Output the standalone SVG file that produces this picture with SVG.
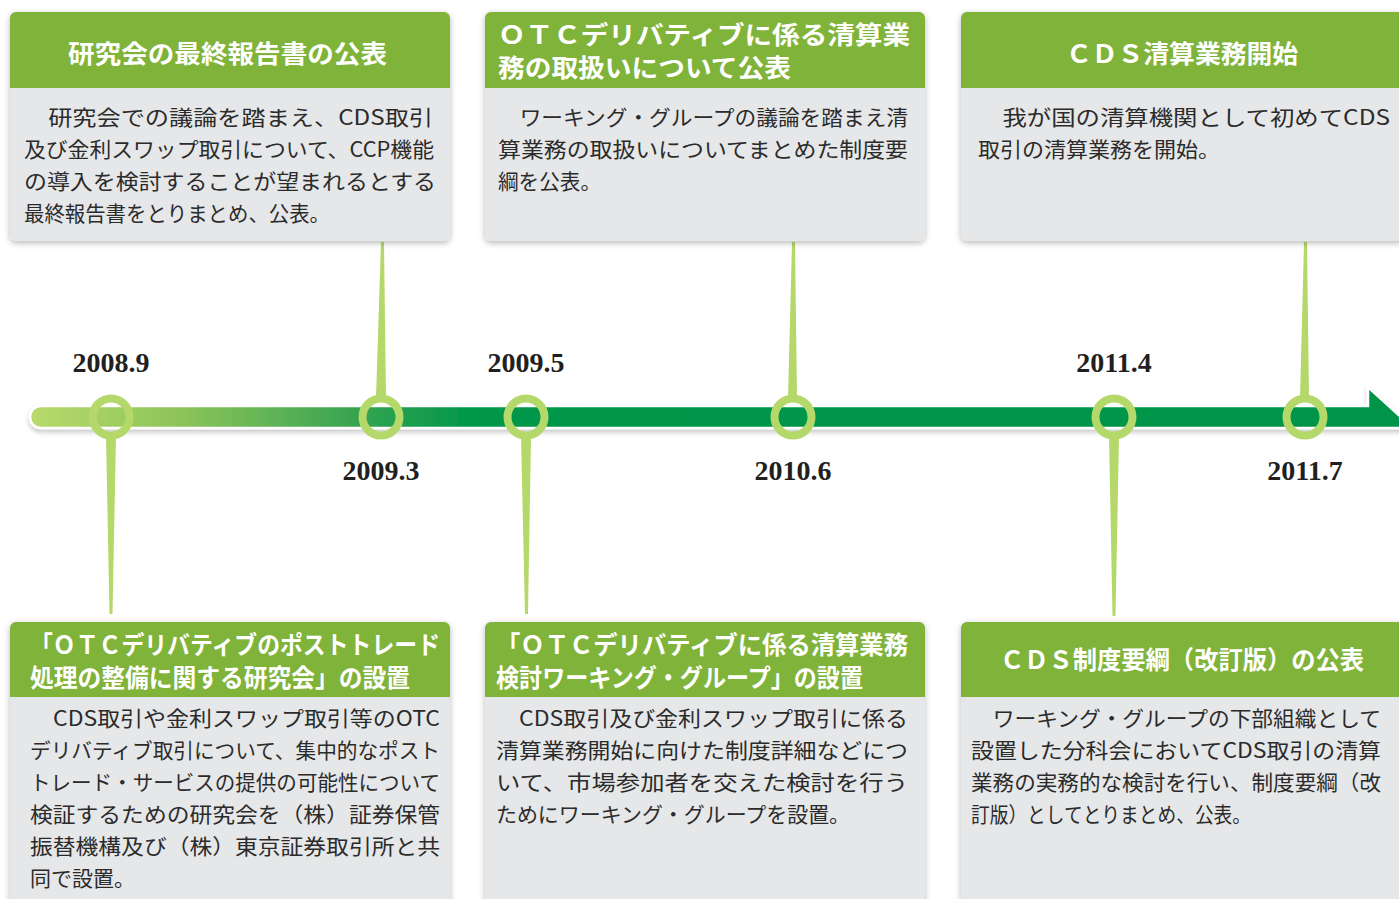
<svg xmlns="http://www.w3.org/2000/svg" width="1399" height="899" viewBox="0 0 1399 899">
<defs>
  <linearGradient id="barGrad" x1="30" y1="0" x2="1413" y2="0" gradientUnits="userSpaceOnUse">
    <stop offset="0" stop-color="#b9da6c"/>
    <stop offset="0.11" stop-color="#8cc45a"/>
    <stop offset="0.23" stop-color="#3aa551"/>
    <stop offset="0.32" stop-color="#00974a"/>
    <stop offset="1" stop-color="#00944a"/>
  </linearGradient>
  <filter id="shadow" x="-10%" y="-10%" width="120%" height="130%">
    <feDropShadow dx="0" dy="2" stdDeviation="3" flood-color="#000" flood-opacity="0.28"/>
  </filter>
  <filter id="barShadow" x="-5%" y="-50%" width="110%" height="250%">
    <feDropShadow dx="0" dy="3" stdDeviation="2.5" flood-color="#000" flood-opacity="0.22"/>
  </filter>
</defs>
<style>
  .hdr { fill: #80b33a; }
  .body { fill: #e6e7e8; }
  .ht { font-family: "Noto Sans CJK JP", "Noto Sans", sans-serif; font-weight: 700; fill: #ffffff; font-size: 25px; }
  .bt { font-family: "Noto Sans CJK JP", "Noto Sans", sans-serif; font-weight: 400; fill: #2b2b2b; font-size: 21px; }
  .date { font-family: "Liberation Serif", serif; font-weight: 700; fill: #231f20; font-size: 28px; text-anchor: middle; }
  .ring { fill: none; stroke: #b5d86a; stroke-width: 8; }
  .conn { fill: #b5d86a; }
</style>
<rect width="1399" height="899" fill="#ffffff"/>

<!-- timeline bar -->
<g id="timeline">
  <path d="M41,406 L1368,406 L1368,387 L1413,428 L41,428 A11,11 0 0 1 41,406 Z" fill="url(#barGrad)" stroke="#ffffff" stroke-width="2.5" filter="url(#barShadow)"/>
</g>

<!-- connectors -->
<g id="connectors">
  <polygon class="conn" points="381,242 384,242 386,398 376,398"/>
  <polygon class="conn" points="792,242 795,242 797,398 788,398"/>
  <polygon class="conn" points="1304,242 1307,242 1309,398 1300,398"/>
  <polygon class="conn" points="106,436 116,436 112.5,614 109.5,614"/>
  <polygon class="conn" points="521,436 531,436 528,614 525,614"/>
  <polygon class="conn" points="1109,436 1119,436 1115.5,616 1112.5,616"/>
</g>

<!-- rings -->
<g id="rings">
  <circle class="ring" cx="111" cy="417" r="18.5"/>
  <circle class="ring" cx="381" cy="417" r="18.5"/>
  <circle class="ring" cx="526" cy="417" r="18.5"/>
  <circle class="ring" cx="793" cy="417" r="18.5"/>
  <circle class="ring" cx="1114" cy="417" r="18.5"/>
  <circle class="ring" cx="1305" cy="417" r="18.5"/>
</g>

<!-- dates -->
<g id="dates">
  <text class="date" x="111" y="372">2008.9</text>
  <text class="date" x="381" y="480">2009.3</text>
  <text class="date" x="526" y="372">2009.5</text>
  <text class="date" x="793" y="480">2010.6</text>
  <text class="date" x="1114" y="372">2011.4</text>
  <text class="date" x="1305" y="480">2011.7</text>
</g>

<!-- top box 1 -->
<g id="box-2008-9">
  <g filter="url(#shadow)">
    <rect class="body" x="10" y="12" width="440" height="229" rx="6"/>
  </g>
  <path class="hdr" d="M16,12 H444 A6,6 0 0 1 450,18 V88 H10 V18 A6,6 0 0 1 16,12 Z"/>
  <text class="ht" x="68" y="63" font-size="26" textLength="319" lengthAdjust="spacingAndGlyphs">研究会の最終報告書の公表</text>
  <text class="bt" x="24" y="125" textLength="409" lengthAdjust="spacingAndGlyphs">　研究会での議論を踏まえ、CDS取引</text>
  <text class="bt" x="24" y="157" textLength="410" lengthAdjust="spacingAndGlyphs">及び金利スワップ取引について、CCP機能</text>
  <text class="bt" x="24" y="189" textLength="412" lengthAdjust="spacingAndGlyphs">の導入を検討することが望まれるとする</text>
  <text class="bt" x="24" y="221" textLength="306" lengthAdjust="spacingAndGlyphs">最終報告書をとりまとめ、公表。</text>
</g>

<!-- top box 2 -->
<g id="box-2010-6">
  <g filter="url(#shadow)">
    <rect class="body" x="485" y="12" width="440" height="229" rx="6"/>
  </g>
  <path class="hdr" d="M491,12 H919 A6,6 0 0 1 925,18 V88 H485 V18 A6,6 0 0 1 491,12 Z"/>
  <text class="ht" x="498" y="44" font-size="24" textLength="412" lengthAdjust="spacingAndGlyphs">ＯＴＣデリバティブに係る清算業</text>
  <text class="ht" x="498" y="77" font-size="24" textLength="293" lengthAdjust="spacingAndGlyphs">務の取扱いについて公表</text>
  <text class="bt" x="498" y="125" textLength="410" lengthAdjust="spacingAndGlyphs">　ワーキング・グループの議論を踏まえ清</text>
  <text class="bt" x="498" y="157" textLength="410" lengthAdjust="spacingAndGlyphs">算業務の取扱いについてまとめた制度要</text>
  <text class="bt" x="498" y="189" textLength="103" lengthAdjust="spacingAndGlyphs">綱を公表。</text>
</g>

<!-- top box 3 -->
<g id="box-2011-7">
  <g filter="url(#shadow)">
    <rect class="body" x="961" y="12" width="450" height="229" rx="6"/>
  </g>
  <path class="hdr" d="M967,12 H1411 V88 H961 V18 A6,6 0 0 1 967,12 Z"/>
  <text class="ht" x="1066" y="63" font-size="26" textLength="232" lengthAdjust="spacingAndGlyphs">ＣＤＳ清算業務開始</text>
  <text class="bt" x="978" y="125" textLength="412" lengthAdjust="spacingAndGlyphs">　我が国の清算機関として初めてCDS</text>
  <text class="bt" x="978" y="157" textLength="242" lengthAdjust="spacingAndGlyphs">取引の清算業務を開始。</text>
</g>

<!-- bottom box 1 -->
<g id="box-2008-9-setup">
  <g filter="url(#shadow)">
    <rect class="body" x="10" y="622" width="440" height="300" rx="6"/>
  </g>
  <path class="hdr" d="M16,622 H444 A6,6 0 0 1 450,628 V697 H10 V628 A6,6 0 0 1 16,622 Z"/>
  <text class="ht" x="30" y="654" textLength="410" lengthAdjust="spacingAndGlyphs">「ＯＴＣデリバティブのポストトレード</text>
  <text class="ht" x="30" y="687" textLength="380" lengthAdjust="spacingAndGlyphs">処理の整備に関する研究会」の設置</text>
  <text class="bt" x="30" y="726" textLength="410" lengthAdjust="spacingAndGlyphs">　CDS取引や金利スワップ取引等のOTC</text>
  <text class="bt" x="30" y="758" textLength="410" lengthAdjust="spacingAndGlyphs">デリバティブ取引について、集中的なポスト</text>
  <text class="bt" x="30" y="790" textLength="410" lengthAdjust="spacingAndGlyphs">トレード・サービスの提供の可能性について</text>
  <text class="bt" x="30" y="822" textLength="410" lengthAdjust="spacingAndGlyphs">検証するための研究会を（株）証券保管</text>
  <text class="bt" x="30" y="854" textLength="410" lengthAdjust="spacingAndGlyphs">振替機構及び（株）東京証券取引所と共</text>
  <text class="bt" x="30" y="886" textLength="105" lengthAdjust="spacingAndGlyphs">同で設置。</text>
</g>

<!-- bottom box 2 -->
<g id="box-2009-5">
  <g filter="url(#shadow)">
    <rect class="body" x="485" y="622" width="440" height="300" rx="6"/>
  </g>
  <path class="hdr" d="M491,622 H919 A6,6 0 0 1 925,628 V697 H485 V628 A6,6 0 0 1 491,622 Z"/>
  <text class="ht" x="496" y="654" textLength="412" lengthAdjust="spacingAndGlyphs">「ＯＴＣデリバティブに係る清算業務</text>
  <text class="ht" x="496" y="687" textLength="367" lengthAdjust="spacingAndGlyphs">検討ワーキング・グループ」の設置</text>
  <text class="bt" x="496" y="726" textLength="412" lengthAdjust="spacingAndGlyphs">　CDS取引及び金利スワップ取引に係る</text>
  <text class="bt" x="496" y="758" textLength="412" lengthAdjust="spacingAndGlyphs">清算業務開始に向けた制度詳細などにつ</text>
  <text class="bt" x="496" y="790" textLength="412" lengthAdjust="spacingAndGlyphs">いて、市場参加者を交えた検討を行う</text>
  <text class="bt" x="496" y="822" textLength="354" lengthAdjust="spacingAndGlyphs">ためにワーキング・グループを設置。</text>
</g>

<!-- bottom box 3 -->
<g id="box-2011-4">
  <g filter="url(#shadow)">
    <rect class="body" x="961" y="622" width="450" height="300" rx="6"/>
  </g>
  <path class="hdr" d="M967,622 H1411 V697 H961 V628 A6,6 0 0 1 967,622 Z"/>
  <text class="ht" x="1000" y="669" textLength="364" lengthAdjust="spacingAndGlyphs">ＣＤＳ制度要綱（改訂版）の公表</text>
  <text class="bt" x="971" y="726" textLength="410" lengthAdjust="spacingAndGlyphs">　ワーキング・グループの下部組織として</text>
  <text class="bt" x="971" y="758" textLength="410" lengthAdjust="spacingAndGlyphs">設置した分科会においてCDS取引の清算</text>
  <text class="bt" x="971" y="790" textLength="410" lengthAdjust="spacingAndGlyphs">業務の実務的な検討を行い、制度要綱（改</text>
  <text class="bt" x="971" y="822" textLength="280" lengthAdjust="spacingAndGlyphs">訂版）としてとりまとめ、公表。</text>
</g>
</svg>
